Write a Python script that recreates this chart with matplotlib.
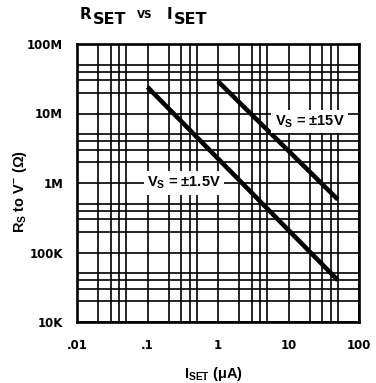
import matplotlib
matplotlib.use("Agg")
import matplotlib.pyplot as plt
from matplotlib.ticker import LogLocator, NullFormatter

# curves (I in uA, R in ohms)
i_15 = [1, 50]
r_15 = [2.9e7, 5.8e5]
i_1p5 = [0.1, 50]
r_1p5 = [2.4e7, 4.0e4]

x_ticks = [0.01, 0.1, 1, 10, 100]
x_labels = [".01", ".1", "1", "10", "100"]
y_ticks = [1e4, 1e5, 1e6, 1e7, 1e8]
y_labels = ["10K", "100K", "1M", "10M", "100M"]

plt.rcParams["font.family"] = ["Liberation Sans", "DejaVu Sans"]
plt.rcParams["font.weight"] = "bold"
plt.rcParams["mathtext.fontset"] = "custom"
plt.rcParams["mathtext.bf"] = "Liberation Sans:bold"
plt.rcParams["mathtext.rm"] = "Liberation Sans:bold"
plt.rcParams["mathtext.default"] = "bf"

WIDE = ["DejaVu Sans"]

fig = plt.figure(figsize=(3.76, 3.83), dpi=100)
ax = fig.add_axes([77 / 376, 1 - 322 / 383, 282 / 376, 278 / 383])

ax.set_xscale("log")
ax.set_yscale("log")
ax.set_xlim(0.01, 100)
ax.set_ylim(1e4, 1e8)

ax.plot(i_1p5, r_1p5, color="black", lw=3.3, solid_capstyle="butt", zorder=3)
ax.plot(i_15, r_15, color="black", lw=3.3, solid_capstyle="butt", zorder=3)

# grid: decades plus 2,3,4,5 in each decade
for axis in (ax.xaxis, ax.yaxis):
    axis.set_minor_locator(LogLocator(base=10, subs=[2, 3, 4, 5]))
    axis.set_minor_formatter(NullFormatter())
ax.grid(which="both", color="black", lw=1.2)
ax.set_axisbelow(True)

ax.set_xticks(x_ticks)
ax.set_xticklabels(x_labels)
ax.set_yticks(y_ticks)
ax.set_yticklabels(y_labels)
ax.tick_params(which="both", length=0)
ax.tick_params(axis="x", pad=12)
ax.tick_params(axis="y", pad=10)
for lab in ax.get_xticklabels() + ax.get_yticklabels():
    lab.set_fontweight("bold")
    lab.set_family(WIDE)
    lab.set_fontsize(8.5)

for s in ax.spines.values():
    s.set_linewidth(1.9)

box = dict(facecolor="white", edgecolor="none", pad=2.5)
ax.text(20, 7.6e6, r"V$_S$ = ±15V", ha="center", va="center",
        fontsize=10.5, fontweight="bold", bbox=box, zorder=4)
ax.text(0.33, 1.0e6, r"V$_S$ = ±1.5V", ha="center", va="center",
        fontsize=10.5, fontweight="bold", bbox=box, zorder=4)

ax.set_ylabel(r"R$_S$ to V$^{-}$ ($\Omega$)", fontsize=10.5, fontweight="bold")
ax.yaxis.set_label_coords(-0.17, 0.468)
ax.set_xlabel(r"I$_{SET}$ ($\mu$A)", fontsize=10.5, fontweight="bold")
ax.xaxis.set_label_coords(0.485, -0.155)

# title set piece by piece: big subscripts and small-caps "VS"
W, H = 376, 383
title_parts = [("R", 11, 80, 19.3), ("SET", 11.5, 93, 24), ("VS", 7.5, 137, 18.5),
               ("I", 11, 167, 19.3), ("SET", 11.5, 174, 24)]
for txt, size, px, py in title_parts:
    fig.text(px / W, 1 - py / H, txt, ha="left", va="baseline",
             fontsize=size, fontweight="bold", family=WIDE)

fig.savefig("out.png", dpi=100)
